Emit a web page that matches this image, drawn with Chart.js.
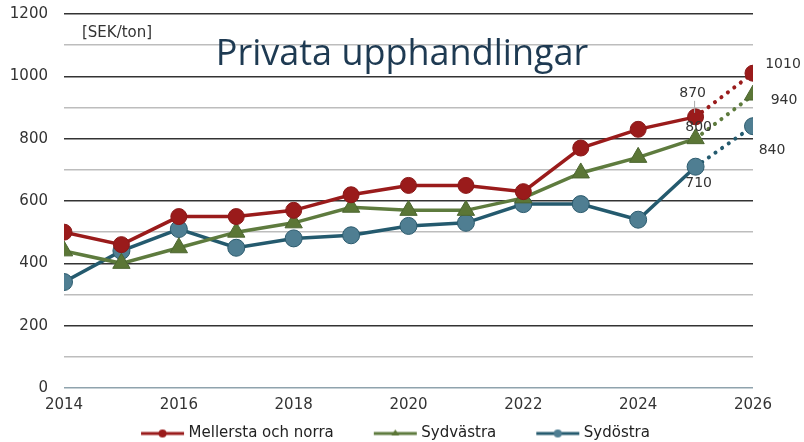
<!DOCTYPE html>
<html>
<head>
<meta charset="utf-8">
<script src="https://cdn.jsdelivr.net/npm/chart.js"></script>
<style>
  html, body { margin: 0; padding: 0; background: #fff; }
  #wrap { width: 804px; height: 442px; }
</style>
</head>
<body>
<div id="wrap"><canvas id="myChart" width="804" height="442"></canvas></div>
<script>
const years = [2014, 2015, 2016, 2017, 2018, 2019, 2020, 2021, 2022, 2023, 2024, 2025, 2026];
const mellerstaOchNorra = [500, 460, 550, 550, 570, 620, 650, 650, 630, 770, 830, 870, 1010];
const sydvastra = [440, 400, 450, 500, 530, 580, 570, 570, 610, 690, 740, 800, 940];
const sydostra = [340, 440, 510, 450, 480, 490, 520, 530, 590, 590, 540, 710, 840];
const seriesNames = ['Mellersta och norra', 'Sydvästra', 'Sydöstra'];
const chartTitle = 'Privata upphandlingar';
const unitLabel = '[SEK/ton]';
// which points get a value label (index into years)
const labelledIdx = [11, 12];

const colors = [
  { line: '#9a1b1b', fill: '#9a1b1b', border: '#8a1818', style: 'circle', r: 8 },
  { line: '#5e7b3e', fill: '#5b7636', border: '#4c6630', style: 'triangle', r: 10 },
  { line: '#245a6e', fill: '#4f7e92', border: '#2c5b6e', style: 'circle', r: 8.5 }
];

const ICON_W = 78;   // legend symbol box (left part is empty spacing)
const FONT = '"DejaVu Sans", sans-serif';

// small canvas used as legend symbol: line with marker in the middle
function legendIcon(c) {
  const cv = document.createElement('canvas');
  cv.width = ICON_W + 8; cv.height = 12;
  const g = cv.getContext('2d');
  const x0 = cv.width - 44, x1 = cv.width - 1, mid = (x0 + x1) / 2;
  g.strokeStyle = c.line; g.lineWidth = 3;
  g.beginPath(); g.moveTo(x0, 6); g.lineTo(x1, 6); g.stroke();
  g.fillStyle = c.fill;
  g.beginPath();
  if (c.style === 'triangle') {
    g.moveTo(mid, 2); g.lineTo(mid + 4, 8); g.lineTo(mid - 4, 8); g.closePath();
  } else {
    g.arc(mid, 6, 4, 0, Math.PI * 2);
  }
  g.fill();
  return cv;
}

const allSeries = [mellerstaOchNorra, sydvastra, sydostra];
const lastIdx = years.length - 1;

const datasets = allSeries.map((vals, i) => ({
  label: seriesNames[i],
  data: vals.map((v, k) => ({ x: years[k], y: v })),
  borderColor: colors[i].line,
  backgroundColor: colors[i].fill,
  pointBackgroundColor: colors[i].fill,
  pointBorderColor: colors[i].border,
  pointBorderWidth: 1,
  pointStyle: colors[i].style,
  pointRadius: colors[i].r,
  borderWidth: 3.5,
  borderCapStyle: 'round',
  tension: 0,
  segment: {
    borderDash: ctx => ctx.p1DataIndex === lastIdx ? [0.1, 8] : undefined,
    borderWidth: ctx => ctx.p1DataIndex === lastIdx ? 4 : undefined
  },
  legendIcon: legendIcon(colors[i])
}));

// value label offsets (dx, dy) per series for 2025 and 2026
const labelOffsets = [
  [[-3, -23], [30, -9]],
  [[3, -11], [31, 5]],
  [[3, 17], [19, 24]]
];

const overlay = {
  id: 'overlay',
  afterDatasetsDraw(chart) {
    const ctx = chart.ctx;
    const xs = chart.scales.x, ys = chart.scales.y;
    ctx.save();
    // unit label
    ctx.fillStyle = '#333';
    ctx.font = '15px ' + FONT;
    ctx.textAlign = 'left';
    ctx.textBaseline = 'middle';
    ctx.fillText(unitLabel, 82, 33);
    // title inside plot
    ctx.fillStyle = '#1e3a52';
    ctx.font = '36px "Open Sans", sans-serif';
    ctx.textAlign = 'center';
    ctx.textBaseline = 'alphabetic';
    ctx.fillText(chartTitle, 402, 65);
    // value labels
    ctx.font = '14px ' + FONT;
    ctx.fillStyle = '#333';
    ctx.textBaseline = 'middle';
    allSeries.forEach((vals, i) => {
      labelledIdx.forEach((k, j) => {
        const px = xs.getPixelForValue(years[k]);
        const py = ys.getPixelForValue(vals[k]);
        const [dx, dy] = labelOffsets[i][j];
        ctx.fillText(String(vals[k]), px + dx, py + dy);
        if (i === 0 && j === 0) {
          ctx.strokeStyle = '#aaa';
          ctx.lineWidth = 1;
          ctx.beginPath();
          ctx.moveTo(px - 1, py + dy + 7);
          ctx.lineTo(px - 1, py - 4);
          ctx.stroke();
        }
      });
    });
    ctx.restore();
  }
};

new Chart(document.getElementById('myChart').getContext('2d'), {
  type: 'line',
  data: { datasets: datasets },
  plugins: [overlay],
  options: {
    responsive: false,
    animation: false,
    layout: { padding: { left: 0, right: 51, top: 14, bottom: -9 } },
    scales: {
      x: {
        type: 'linear',
        min: 2014,
        max: 2026,
        border: { display: false },
        grid: { display: false },
        ticks: {
          stepSize: 2,
          color: '#333',
          font: { family: FONT, size: 15 },
          padding: 0,
          maxRotation: 0,
          callback: v => String(v)
        },
        afterFit: s => { s.height = 36; }
      },
      y: {
        min: 0,
        max: 1200,
        border: { display: false },
        grid: {
          drawTicks: false,
          lineWidth: 1.5,
          color: c => c.tick.value === 0 ? '#8fa3ad' : (c.tick.value % 200 === 0 ? '#333' : '#bdbdbd')
        },
        ticks: {
          stepSize: 100,
          color: '#333',
          font: { family: FONT, size: 15 },
          padding: 16,
          callback: v => v % 200 === 0 ? String(v) : ''
        },
        afterFit: s => { s.width = 64; s.paddingTop = 0; s.paddingBottom = 0; }
      }
    },
    plugins: {
      title: { display: false },
      tooltip: { enabled: false },
      legend: {
        position: 'bottom',
        labels: {
          usePointStyle: true,
          pointStyleWidth: ICON_W,
          color: '#222',
          font: { family: FONT, size: 15 },
          padding: 2,
          generateLabels: chart => chart.data.datasets.map((d, i) => ({
            text: d.label,
            pointStyle: d.legendIcon,
            fillStyle: d.backgroundColor,
            strokeStyle: d.borderColor,
            lineWidth: 0,
            hidden: false,
            datasetIndex: i,
            fontColor: '#222'
          }))
        }
      }
    }
  }
});
</script>
</body>
</html>
